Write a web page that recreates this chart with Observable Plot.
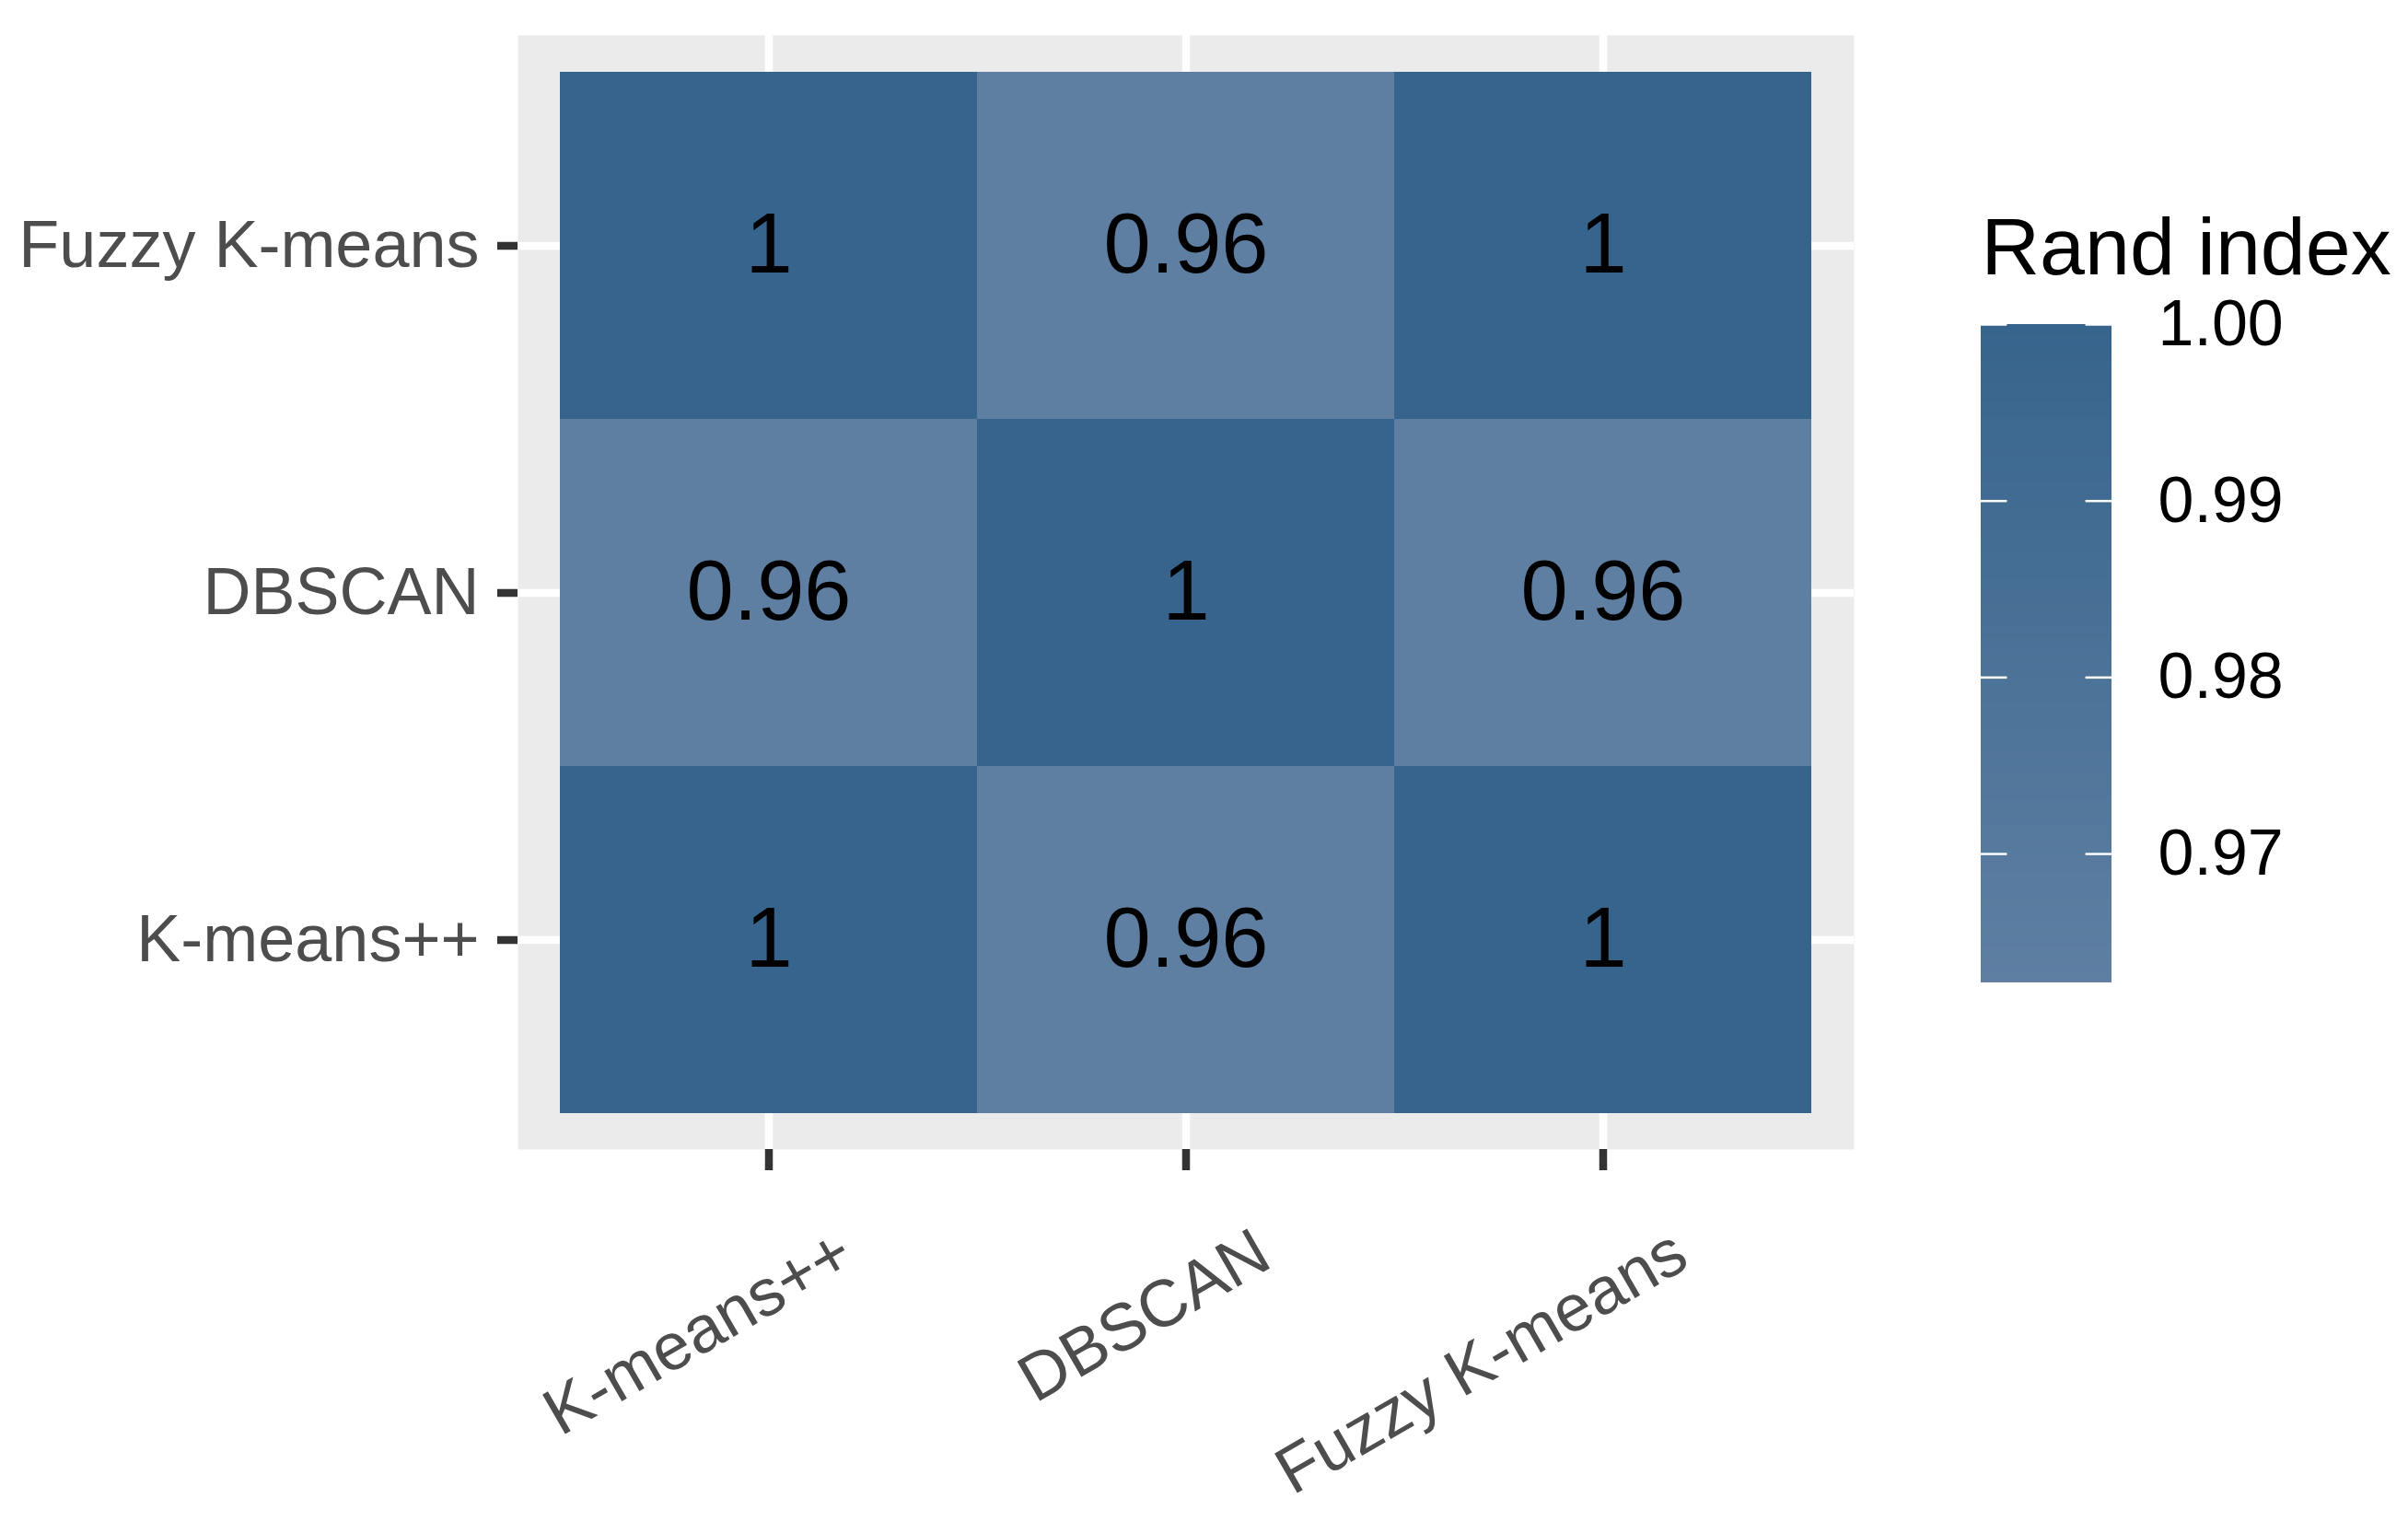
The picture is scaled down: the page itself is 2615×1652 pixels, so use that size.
<!DOCTYPE html>
<html>
<head>
<meta charset="utf-8">
<script src="https://cdn.jsdelivr.net/npm/d3@7"></script>
<script src="https://cdn.jsdelivr.net/npm/@observablehq/plot@0.6"></script>
<style>
  html, body { margin: 0; padding: 0; background: #ffffff; }
  #wrap { position: relative; width: 2615px; height: 1652px; overflow: hidden; }
  #main { position: absolute; left: 0; top: 0; }
  #legend { position: absolute; left: 2100px; top: 0; }
  svg { overflow: visible; }
</style>
</head>
<body>
<div id="wrap"><div id="main"></div><div id="legend"></div></div>
<script>
// ---- data ----
const xCats = ["K-means++", "DBSCAN", "Fuzzy K-means"];
const yCats = ["Fuzzy K-means", "DBSCAN", "K-means++"]; // top to bottom
// rows follow yCats, columns follow xCats
const randRowFuzzy  = [1, 0.9627, 1];
const randRowDBSCAN = [0.9627, 1, 0.9627];
const randRowKpp    = [1, 0.9627, 1];
const legendTicks = [0.97, 0.98, 0.99, 1.00];
const legendTitle = "Rand index";

const rows = [randRowFuzzy, randRowDBSCAN, randRowKpp];
const cells = [];
yCats.forEach((r, i) => xCats.forEach((c, j) => cells.push({row: r, col: c, value: rows[i][j]})));
const vMin = d3.min(cells, d => d.value), vMax = d3.max(cells, d => d.value);

const FONT = "'Liberation Sans', Arial, Helvetica, sans-serif";
const colorOpts = {type: "linear", domain: [vMin, vMax], range: ["#5e7fa2", "#37648c"]};

const main = Plot.plot({
  width: 2615, height: 1652,
  marginLeft: 562, marginRight: 602, marginTop: 38, marginBottom: 404,
  x: {domain: xCats, padding: 0, inset: 45, label: null},
  y: {domain: yCats, padding: 0, inset: 39, label: null},
  color: colorOpts,
  style: {fontFamily: FONT, background: "transparent", color: "#333333"},
  marks: [
    Plot.frame({fill: "#ebebeb"}),
    Plot.gridX({stroke: "#ffffff", strokeOpacity: 1, strokeWidth: 8.5}),
    Plot.gridY({stroke: "#ffffff", strokeOpacity: 1, strokeWidth: 8.5}),
    Plot.cell(cells, {x: "col", y: "row", fill: "value", shapeRendering: "crispEdges"}),
    Plot.text(cells, {x: "col", y: "row", text: d => String(+d.value.toFixed(2)), fontSize: 92, fill: "#000000"}),
    Plot.axisY({tickSize: 22, strokeWidth: 8.5, stroke: "#333333", tickFormat: () => ""}),
    Plot.axisY({tickSize: 0, tickPadding: 42, fontSize: 72, fill: "#4d4d4d"}),
    Plot.axisX({tickSize: 23, strokeWidth: 8.5, stroke: "#333333", tickFormat: () => ""}),
    Plot.text(xCats, {x: d => d, text: d => d, frameAnchor: "bottom", rotate: -30,
      textAnchor: "end", lineAnchor: "bottom", dx: 96, dy: 126, fontSize: 72, fill: "#4d4d4d"})
  ]
});
document.getElementById("main").appendChild(main);

// ---- legend (vertical colour bar) ----
const N = 240;
const ramp = d3.range(N).map(i => {
  const a = vMin + (vMax - vMin) * i / N, b = vMin + (vMax - vMin) * (i + 1) / N;
  return {y1: a, y2: Math.min(vMax, b + (vMax - vMin) / N * 0.3), v: (a + b) / 2};
});
const legend = Plot.plot({
  width: 515, height: 1652,
  marginLeft: 51, marginRight: 322, marginTop: 352, marginBottom: 585,
  x: {domain: [0, 1], axis: null},
  y: {domain: [vMin, vMax], axis: null},
  color: colorOpts,
  style: {fontFamily: FONT, background: "transparent"},
  marks: [
    Plot.rect(ramp, {x1: 0, x2: 1, y1: "y1", y2: "y2", fill: "v", shapeRendering: "crispEdges"}),
    Plot.ruleY(legendTicks, {y: d => d, x1: 0, x2: 0.2, stroke: "#ffffff", strokeWidth: 2.5}),
    Plot.ruleY(legendTicks, {y: d => d, x1: 0.8, x2: 1, stroke: "#ffffff", strokeWidth: 2.5}),
    Plot.text(legendTicks, {y: d => d, x: 1, dx: 50, text: d => d3.format(".2f")(d),
      textAnchor: "start", fontSize: 70, fill: "#000000"}),
    Plot.text([legendTitle], {frameAnchor: "top-left", text: d => d, textAnchor: "start",
      lineAnchor: "bottom", dy: -55, fontSize: 88, fill: "#000000"})
  ]
});
document.getElementById("legend").appendChild(legend);
</script>
</body>
</html>
